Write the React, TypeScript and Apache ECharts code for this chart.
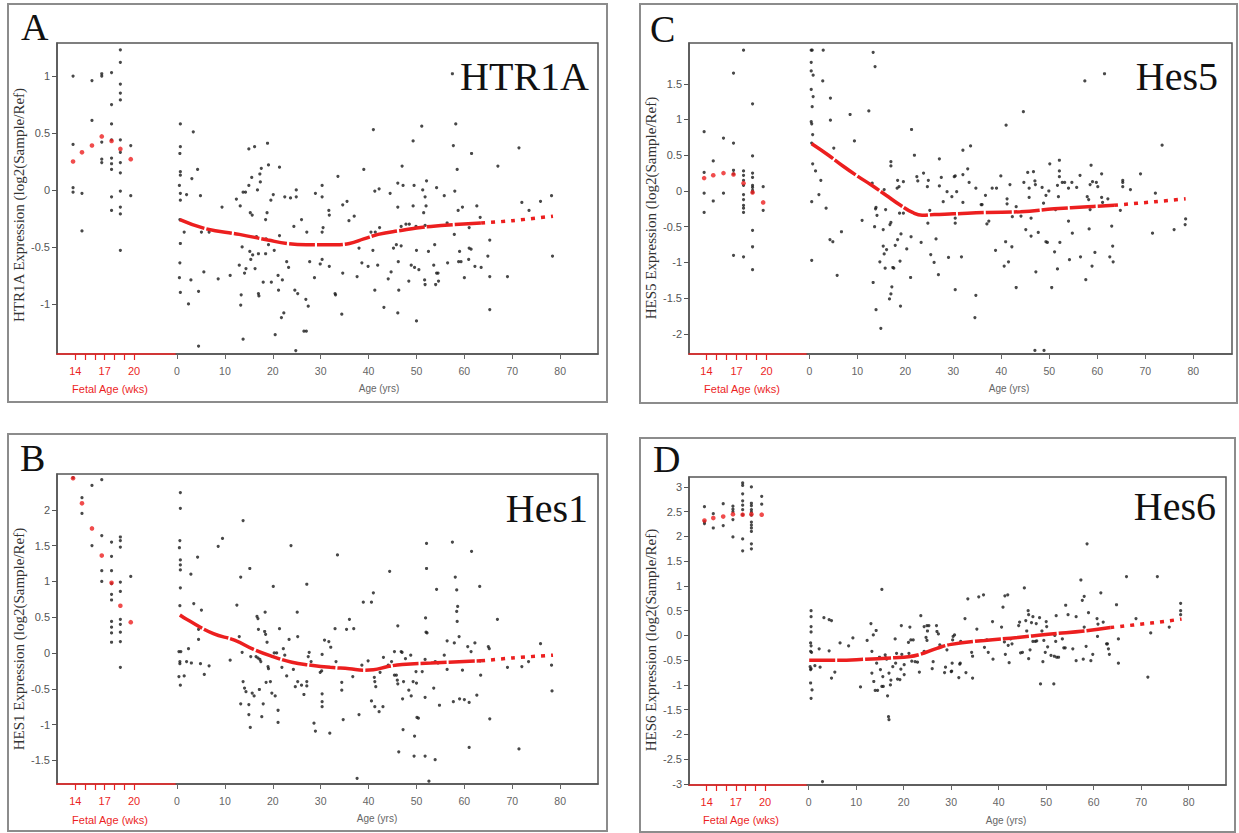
import React, { useEffect, useRef } from "react";
import * as echarts from "echarts";

// ---------- shared axis values ----------
const fetalWeeks = [13.77, 14.68, 15.7, 16.7, 17.7, 18.6, 19.66];
const fetalTickValues = [14, 15, 16, 17, 18, 19, 20];
const fetalLabelValues = [14, 17, 20];
const ageTickValues = [0, 10, 20, 30, 40, 50, 60, 70, 80];

// ---------- panel A : HTR1A ----------
const yTicksA = [-1, -0.5, 0, 0.5, 1];
const htr1aFetalTrend = [0.25, 0.33, 0.39, 0.47, 0.43, 0.36, 0.27];
const htr1aFetalDots = [
  [1.0, 0.4, 0.02, -0.02],
  [-0.03, -0.36],
  [0.96, 0.61],
  [1.02, 1.0, 0.42, 0.27, 0.24],
  [1.03, 0.75, 0.58, 0.44, 0.28, 0.23, 0.18, -0.06, -0.18],
  [1.23, 1.12, 0.93, 0.85, 0.79, 0.44, 0.33, 0.24, 0.15, -0.01, -0.15, -0.21, -0.53],
  [0.39, -0.05],
];
const htr1aAgeDots = [
  [0.7,0.58],[0.7,0.38],[0.6,0.32],[0.7,0.16],[0.7,0.13],[0.5,0.04],[0.7,-0.03],[0.7,-0.09],[2.0,-0.04],[3.1,0.10],[3.4,0.51],[4.3,0.18],[4.9,-0.05],[9.4,-0.15],[12.4,-0.08],[13.2,-0.14],[13.8,-0.02],[14.3,-0.02],[15.0,0.04],[15.0,0.36],[15.6,0.11],[16.2,0.38],[16.8,0.0],[17.3,0.14],[17.4,0.07],[17.6,0.19],[18.9,0.41],[19.1,0.22],[19.6,-0.09],[20.1,-0.04],[21.4,0.20],[22.5,-0.06],[23.7,-0.07],[24.9,0.0],[24.9,-0.06],
  [0.6,-0.26],[1.5,-0.37],[0.7,-0.47],[0.6,-0.64],[0.5,-0.77],[0.7,-0.90],[2.4,-1.0],[2.9,-0.79],[4.5,-0.89],[4.5,-1.37],[5.1,-0.37],[5.6,-0.72],[6.7,-0.37],[8.6,-0.78],[11.1,-0.75],[13.0,-0.66],[13.4,-0.92],[13.3,-1.01],[13.8,-1.31],[13.6,-0.50],[14.1,-0.73],[14.4,-0.69],[15.2,-0.54],[15.3,-0.20],[15.7,-0.22],[15.4,-0.61],[15.8,-0.57],[16.3,-0.69],[16.6,-0.41],[17.0,-0.56],[17.0,-0.91],[17.1,-0.93],[18.0,-0.81],[18.5,-0.26],[18.8,-0.20],[18.6,-0.43],[18.5,-0.56],[19.1,-0.48],[19.7,-0.81],[20.3,-0.53],[20.5,-1.27],[21.1,-0.75],[21.2,-0.88],[21.4,-0.40],[21.8,-1.12],[22.0,-0.79],[22.3,-1.08],[22.9,-0.63],[23.3,-0.68],[24.4,-0.32],[24.6,-0.88],[24.8,-1.41],[25.2,-0.91],[26.0,-0.26],[26.5,-1.24],[27.0,-1.24],[26.9,-0.96],[27.1,-0.37],[27.4,-1.02],[27.7,-0.63],
  [28.7,-0.77],[28.9,-0.03],[29.9,-0.65],[30.3,-0.61],[30.5,-0.33],[30.3,-0.37],[30.3,0.04],[30.3,-0.06],[31.7,-0.18],[31.8,-0.22],[31.8,-0.67],[33.0,-0.91],[33.1,-0.92],[33.6,0.12],[34.6,-0.13],[35.5,-0.10],[35.9,-0.27],[37.0,-0.23],[34.6,-0.73],[34.4,-1.09],[37.6,-0.76],[38.0,-0.51],[38.6,-0.64],[39.0,0.18],[39.9,-0.67],[40.5,-0.37],[41.0,0.53],[41.3,-0.01],[42.2,0.01],[40.9,-0.53],[41.3,-0.88],[41.9,-0.66],[41.4,-0.37],[42.3,-0.33],[43.2,-1.03],[44.1,-0.78],[44.5,-0.03],[44.7,-0.72],[45.2,-0.51],[45.8,-0.48],[46.1,-0.15],[46.1,0.06],[46.2,-0.63],[46.3,-0.88],[46.1,-1.08],[46.8,-0.49],[46.8,-0.32],[47.0,0.21],[47.2,0.04],[47.8,-0.30],[48.5,-0.30],[48.4,-0.80],[48.9,-0.66],[49.3,0.43],[49.3,-0.14],[49.5,0.04],[49.6,-0.68],[50.0,-0.53],[50.0,-1.15],[49.9,-0.32],[50.5,-0.70],[51.1,0.56],[51.3,0.0],[51.5,-0.20],[51.8,-0.06],[52.0,-0.14],[52.1,0.08],[51.8,-0.31],[51.7,-0.79],[51.8,-0.83],[52.5,-0.54],[53.6,-0.66],[53.8,-0.48],[54.0,-0.83],[54.2,-0.73],[54.5,-0.73],[54.6,-0.80],[54.2,0.02],[55.8,-0.05],[56.4,-0.29],[56.5,-0.64],[57.5,1.02],[58.2,0.58],[57.7,0.39],[58.5,0.18],[58.0,-0.01],[58.7,-0.18],[59.6,-0.15],[57.9,-0.39],[58.8,-0.63],[59.0,-0.54],[59.3,-0.63],[61.5,0.32],[62.6,-0.14],[63.3,-0.24],[61.0,-0.33],[61.0,-0.51],[61.4,-0.52],[60.9,-0.61],[60.0,-0.77],[62.2,-0.67],[63.5,-0.68],[64.9,-0.58],[65.3,-0.44],[65.3,-0.76],[65.3,-1.05],[67.0,0.21],[69.0,-0.76],[71.4,0.37],[72.0,-0.11],[73.5,-0.18],[75.9,-0.10],[78.2,-0.05],[78.4,-0.58],
];
const htr1aTrend = [[0.6,-0.26],[6,-0.34],[13,-0.39],[19,-0.44],[23,-0.47],[27,-0.48],[33,-0.48],[36,-0.47],[39,-0.43],[42,-0.39],[46,-0.36],[53,-0.32],[63.5,-0.29],[70,-0.27],[78.5,-0.23]];

// ---------- panel B : Hes1 ----------
const yTicksB = [-1.5, -1, -0.5, 0, 0.5, 1, 1.5, 2];
const hes1FetalTrend = [2.44, 2.09, 1.74, 1.36, 0.98, 0.66, 0.43];
const hes1FetalDots = [
  [2.45],
  [2.17, 1.95],
  [2.34, 1.5],
  [2.42, 1.64, 1.15, 1.0],
  [1.55, 1.35, 1.15, 0.97, 0.82, 0.74, 0.44, 0.36, 0.28, 0.15],
  [1.62, 1.57, 1.48, 0.99, 0.86, 0.47, 0.4, 0.29, 0.16, -0.2],
  [1.07],
];
const hes1AgeDots = [
  [0.7,2.24],[0.7,2.02],[0.6,1.57],[0.5,1.47],[0.7,1.30],[0.7,1.23],[0.7,1.16],[0.7,0.91],[0.6,0.66],[2.9,1.10],[3.5,0.69],[4.3,1.34],[5.1,0.60],[8.6,1.49],[9.5,1.60],[12.5,0.67],[13.3,1.06],[13.8,1.85],[15.2,1.18],[16.7,0.51],[16.9,0.48],[18.4,0.57],[20.1,0.93],[23.8,1.50],[25.1,0.57],[27.1,0.96],
  [0.4,0.02],[0.8,0.02],[0.6,-0.12],[0.6,-0.15],[0.4,-0.33],[0.7,-0.45],[1.5,-0.32],[2.0,-0.12],[2.4,0.06],[3.0,-0.14],[4.5,0.33],[4.5,0.19],[4.9,-0.15],[5.7,-0.30],[6.7,-0.18],[11.1,-0.10],[13.0,0.23],[13.3,-0.71],[13.6,0.01],[13.8,-0.40],[14.1,-0.49],[14.4,-0.54],[15.0,-0.72],[15.0,-0.86],[15.3,-1.04],[15.4,-0.05],[15.7,-0.56],[16.1,-0.60],[16.5,-0.05],[16.9,-0.07],[17.3,-0.09],[17.5,-0.12],[17.0,0.33],[17.2,-0.51],[17.7,-0.89],[18.0,-0.71],[18.3,0.30],[18.5,0.26],[18.8,0.15],[19.0,-0.19],[19.1,-0.22],[18.6,-0.41],[19.5,-0.40],[19.8,-0.56],[20.5,-0.60],[21.1,-0.80],[21.1,-0.97],[20.3,0.0],[20.8,0.0],[21.4,0.34],[21.9,-0.20],[22.2,0.06],[22.5,-0.03],[22.9,-0.32],[23.4,0.19],[24.3,-0.23],[24.7,-0.47],[25.2,0.23],[25.2,-0.40],[26.0,-0.45],[26.5,-0.58],[27.1,-0.40],[27.1,-0.46],[27.4,-0.05],
  [27.6,0.01],[28.0,-0.12],[28.6,-0.98],[28.9,-1.09],[29.9,-0.27],[30.3,-0.02],[30.2,-0.25],[30.3,-0.57],[30.3,-0.68],[30.3,-0.75],[30.8,0.18],[31.7,0.16],[32.1,0.08],[31.9,-1.12],[33.0,0.34],[33.2,-0.12],[33.5,1.37],[34.4,-0.41],[34.4,-0.52],[34.7,-0.93],[35.4,0.33],[36.0,0.47],[36.9,0.34],[36.7,-0.33],[37.6,-1.75],[38.0,-0.86],[38.6,-0.17],[38.9,0.71],[40.6,0.71],[41.0,0.84],[39.9,-0.11],[41.2,-0.34],[41.3,-0.40],[41.5,-0.47],[40.6,-0.67],[41.3,-0.75],[42.2,-0.82],[43.0,-0.75],[42.4,-0.27],[43.1,-0.06],[44.1,-0.17],[44.4,1.14],[44.8,-0.12],[45.4,0.02],[45.4,-0.31],[45.8,-0.31],[46.0,-0.38],[46.1,-0.43],[46.1,0.38],[46.3,-1.38],[46.8,0.02],[47.0,0.01],[47.2,-1.07],[47.1,-0.64],[47.3,-0.40],[47.7,-0.08],[48.8,-0.03],[48.4,-0.52],[48.9,-0.60],[49.3,-0.40],[49.6,-1.16],[49.5,-1.44],[49.9,-0.26],[50.0,-0.42],[50.1,-0.90],[50.4,-0.91],[51.2,-0.26],[51.8,-1.44],[51.8,-0.62],[51.8,-0.09],[51.9,0.49],[52.0,0.29],[52.2,0.28],[52.1,1.18],[52.1,1.53],[52.6,-1.79],[53.6,-0.49],[53.9,-0.12],[54.2,-0.13],[54.5,-0.14],[53.9,-1.49],[54.2,0.89],[54.8,-0.73],[55.8,-0.03],[56.4,0.17],[56.4,-0.23],[57.5,1.55],[57.7,-0.68],[57.9,0.14],[58.1,1.06],[58.4,0.88],[58.6,0.65],[58.4,0.58],[58.5,0.44],[58.9,0.23],[59.0,-0.64],[59.6,-0.24],[60.0,-0.65],[60.7,0.09],[61.0,-1.32],[61.0,-0.69],[61.4,0.02],[61.5,1.42],[62.2,0.14],[62.6,-0.59],[63.2,0.93],[63.3,-0.11],[63.4,-0.31],[65.0,0.09],[65.2,0.06],[65.3,-0.92],[66.9,0.47],[69.0,-0.20],[71.4,-1.34],[72.0,-0.19],[73.4,-0.12],[75.9,0.13],[78.2,-0.17],[78.3,-0.53],
];
const hes1Trend = [[0.6,0.53],[2,0.47],[7.6,0.27],[12,0.18],[16,0.05],[20,-0.05],[24,-0.13],[28,-0.17],[32,-0.20],[36,-0.22],[39,-0.24],[41,-0.235],[44,-0.19],[47,-0.16],[53,-0.14],[63.5,-0.11],[70,-0.07],[78.5,-0.03]];

// ---------- panel C : Hes5 ----------
const yTicksC = [-2, -1.5, -1, -0.5, 0, 0.5, 1, 1.5];
const hes5FetalTrend = [0.18, 0.22, 0.25, 0.23, 0.11, -0.02, -0.16];
const hes5FetalDots = [
  [0.83, 0.26, -0.03, -0.3],
  [0.42, -0.14],
  [0.74, -0.03],
  [1.65, 0.67, 0.29, 0.24, -0.9],
  [1.97, 0.28, 0.22, 0.15, 0.08, -0.05, -0.12, -0.2, -0.24, -0.3, -0.92],
  [1.22, 0.49, 0.25, 0.19, 0.08, 0.05, 0.01, -0.02, -0.55, -0.78, -1.1],
  [0.06, -0.27],
];
const hes5AgeDots = [
  [0.4,1.97],[0.6,1.97],[2.9,1.97],[0.4,1.80],[0.4,1.68],[0.8,1.62],[0.4,1.42],[0.8,1.32],[0.6,1.18],[0.4,0.97],[0.5,0.94],[0.7,0.79],[0.5,0.67],[0.7,0.38],[1.3,0.28],[2.4,0.15],[2.0,-0.05],[0.5,-0.15],[2.8,1.54],[4.4,1.30],[4.4,0.99],[5.1,0.60],[8.5,1.07],[9.4,0.70],[12.4,1.12],[13.3,1.94],[13.7,1.74],[13.1,0.11],[15.6,0.02],[17.0,0.41],[17.0,0.35],[18.3,0.04],[18.7,0.06],[18.4,0.15],[19.6,0.13],[21.3,0.86],[21.9,0.50],[22.4,0.20],[22.6,0.14],[23.8,0.25],[24.8,0.15],
  [3.5,-0.24],[0.5,-0.97],[4.3,-0.68],[4.9,-0.71],[6.7,-0.57],[5.8,-1.18],[11.0,-0.41],[13.3,-1.28],[13.8,-0.25],[13.9,-0.23],[14.1,-0.34],[13.6,-0.50],[13.9,-1.66],[14.9,-1.92],[14.7,-0.99],[15.4,-0.54],[15.6,-0.88],[15.4,-0.77],[15.8,-1.08],[16.1,-0.82],[15.9,-0.26],[16.8,-0.47],[17.0,-0.44],[16.7,-1.51],[17.0,-1.44],[17.2,-1.34],[17.4,-1.07],[17.6,-1.08],[18.4,-0.68],[17.9,-0.76],[19.0,-1.61],[18.9,-0.98],[19.1,-0.60],[18.8,-0.31],[19.6,-0.31],[20.3,-0.81],[21.1,-1.21],[21.2,-0.64],[23.3,-0.72],[24.7,-0.45],
  [25.1,-0.27],[24.6,0.06],[25.3,-0.89],[26.0,-1.0],[26.4,-0.67],[26.9,-1.17],[27.1,0.45],[27.1,0.07],[27.5,0.19],[27.9,-0.15],[28.7,-0.01],[29.0,-0.93],[29.7,-0.08],[30.2,0.20],[30.4,0.21],[30.4,-0.38],[30.4,-0.45],[30.4,-1.38],[30.7,-0.01],[31.7,-0.92],[32.0,0.57],[32.0,-0.16],[32.0,0.23],[33.0,0.31],[33.3,0.12],[33.6,0.63],[34.7,0.04],[34.7,-1.46],[34.5,-1.77],[35.8,-0.19],[36.0,-0.19],[36.7,-0.06],[37.0,-0.46],[37.4,-0.42],[38.1,0.04],[39.0,0.04],[38.8,-0.83],[39.9,0.21],[40.6,-1.05],[40.9,-0.71],[41.0,0.92],[41.2,-0.11],[41.2,-0.18],[41.5,-0.99],[41.8,0.09],[42.3,-0.36],[42.2,-0.78],[43.1,-0.22],[43.1,-1.35],[44.1,-0.35],[44.6,1.11],[44.7,0.12],[45.1,-0.54],[45.5,0.26],[45.8,0.04],[45.8,-0.09],[46.2,-0.38],[46.2,-0.63],[46.7,0.27],[47.0,0.14],[47.1,0.09],[47.2,-1.13],[47.0,-2.23],[48.9,-2.23],[47.7,-0.58],[48.5,0.05],[48.8,-0.17],[49.3,-0.71],[49.6,-0.72],[49.3,-0.06],[49.9,0.0],[50.1,0.38],[50.5,-1.35],[51.1,-0.85],[51.3,-0.26],[51.7,-1.09],[51.7,0.08],[51.9,-0.08],[52.1,0.43],[52.1,0.28],[52.1,0.20],[52.2,-0.72],[52.7,0.12],[53.2,0.12],[54.0,-0.42],[54.0,0.04],[54.2,-0.96],[54.7,0.12],[54.8,-0.59],[55.7,0.05],[56.4,0.22],[56.5,-0.92],[57.4,1.54],[57.6,-1.24],[57.9,-0.08],[58.2,-0.12],[58.3,-0.53],[58.5,0.09],[58.5,-0.26],[58.7,0.36],[58.9,-1.05],[59.0,0.13],[59.5,-0.86],[59.8,0.12],[60.1,0.06],[60.9,0.24],[61.1,-0.16],[60.9,-0.09],[61.5,1.64],[62.2,-0.11],[62.6,-0.92],[63.0,-0.49],[63.2,-0.77],[63.3,-0.99],[64.8,-0.27],[65.3,0.15],[65.3,0.12],[65.3,0.06],[66.9,0.02],[69.0,0.24],[71.5,-0.59],[72.1,-0.03],[73.5,0.64],[76.0,-0.54],[78.3,-0.47],[78.4,-0.39],
];
const hes5Trend = [[0.5,0.66],[4,0.5],[7,0.35],[10,0.21],[13,0.08],[16,-0.06],[19,-0.2],[21.5,-0.3],[23.5,-0.34],[26,-0.33],[30,-0.32],[37,-0.30],[44,-0.29],[51,-0.25],[58,-0.22],[63.5,-0.20],[72,-0.15],[78.4,-0.11]];

// ---------- panel D : Hes6 ----------
const yTicksD = [-3, -2.5, -2, -1.5, -1, -0.5, 0, 0.5, 1, 1.5, 2, 2.5, 3];
const hes6FetalTrend = [2.32, 2.37, 2.4, 2.45, 2.44, 2.45, 2.44];
const hes6FetalDots = [
  [2.6, 2.3, 2.26],
  [2.46, 2.17],
  [2.66, 2.22],
  [2.61, 2.55, 2.5, 2.34, 1.99],
  [3.08, 3.03, 2.86, 2.72, 2.63, 2.54, 2.44, 1.95, 1.71],
  [3.0, 2.67, 2.62, 2.54, 2.49, 2.43, 2.29, 2.23, 2.17, 2.1, 1.85, 1.75],
  [2.81, 2.65],
];
const hes6AgeDots = [
  [0.5,0.50],[0.5,0.38],[3.2,0.36],[4.3,0.32],[4.8,0.30],[13.1,0.24],[15.4,0.93],[23.6,0.40],
  [0.5,0.18],[0.5,0.07],[0.4,-0.15],[0.5,-0.21],[0.4,-0.32],[0.6,-0.34],[0.3,-0.63],[0.4,-0.69],[0.5,-0.67],[0.4,-0.96],[0.7,-1.10],[0.5,-1.27],[1.3,-0.61],[2.4,-0.64],[2.2,-0.27],[4.3,-0.31],[4.8,-0.86],[5.5,-0.74],[2.9,-2.95],[6.6,-0.15],[8.4,-0.21],[9.3,-0.05],[10.9,-1.04],[12.3,-0.10],[13.6,0.01],[14.2,0.10],[13.3,-0.32],[13.3,-0.76],[13.7,-0.93],[14.0,-1.11],[14.5,-1.11],[14.3,-0.56],[14.9,-0.44],[15.1,-0.69],[15.4,-1.03],[15.7,-1.03],[15.6,-0.83],[16.1,-0.39],[16.2,-0.45],[16.4,-0.48],[16.6,-1.22],[16.8,-1.64],[16.9,-1.70],[16.9,-0.76],[17.2,-1.0],[17.3,-0.90],[17.7,-0.63],[18.2,-0.07],[18.3,-0.56],[18.5,-0.36],[18.7,-0.88],[19.2,-0.89],[19.4,-0.68],[19.5,0.20],[19.6,-0.38],[20.1,-0.59],[20.1,-0.79],[21.0,-0.14],[21.1,-0.36],[21.3,0.17],[21.5,-0.09],[22.0,-0.09],[21.7,-0.52],[22.4,-0.53],[22.9,-0.54],[23.3,-0.74],[24.1,-0.36],[24.7,-0.04],[24.9,-0.10],[24.3,0.18],
  [24.3,-0.32],[24.9,0.20],[25.0,0.09],[25.3,0.20],[26.0,-0.67],[26.2,-0.53],[26.9,0.20],[27.0,0.08],[27.3,0.03],[27.6,-0.19],[28.6,-0.75],[28.8,-0.64],[29.1,-0.29],[30.0,-0.73],[30.1,-0.72],[30.2,-0.56],[30.3,-0.09],[30.4,-0.02],[30.7,0.01],[31.6,-0.85],[31.8,-0.58],[31.9,-0.56],[32.0,-0.12],[32.9,0.34],[33.1,-0.75],[33.5,0.74],[34.5,-0.42],[34.5,-0.86],[34.3,-0.34],[35.4,0.13],[35.8,0.78],[36.8,0.82],[37.0,-0.24],[37.5,-0.09],[37.8,-0.34],[38.7,0.28],[38.8,-0.48],[40.6,0.17],[40.9,0.57],[41.3,0.80],[41.9,0.82],[41.2,-0.13],[41.4,-0.38],[42.0,-0.20],[42.2,-0.55],[42.5,-0.07],[42.8,-0.17],[44.2,0.20],[44.4,0.27],[44.6,-0.35],[45.0,-0.34],[45.4,0.96],[45.7,0.30],[45.9,0.09],[46.2,0.50],[46.3,0.42],[46.3,-0.47],[46.6,-0.29],[46.9,0.26],[47.2,0.38],[47.2,-0.12],[47.7,-0.12],[48.0,-0.11],[47.9,0.24],[48.6,0.36],[48.8,-0.98],[49.1,0.09],[49.3,-0.53],[49.5,-0.10],[50.0,0.28],[50.1,0.18],[50.3,-0.23],[49.8,-0.34],[51.0,-0.40],[51.7,-0.42],[52.2,-0.44],[52.6,-0.44],[51.6,-0.98],[51.8,0.0],[52.0,-0.12],[52.1,0.40],[53.4,-0.07],[53.7,-0.25],[54.0,-0.25],[54.1,0.61],[54.6,0.42],[55.6,-0.27],[56.3,0.38],[56.3,-0.51],[57.3,1.12],[57.6,0.71],[58.0,0.79],[57.8,-0.48],[58.0,0.17],[58.4,-0.22],[58.6,1.85],[58.9,0.46],[59.4,-0.51],[59.8,-0.38],[60.7,0.34],[60.9,0.23],[60.8,-0.02],[61.5,0.86],[62.0,0.27],[62.7,-0.17],[62.9,-0.17],[63.1,-0.27],[63.3,-0.38],[64.8,0.62],[65.2,-0.07],[65.2,-0.56],[66.9,1.19],[68.9,0.34],[71.4,-0.84],[72.0,0.05],[73.4,1.19],[75.9,0.17],[78.3,0.65],[78.3,0.50],[78.3,0.42],
];
const hes6Trend = [[0.1,-0.50],[6,-0.50],[12,-0.48],[18,-0.45],[21,-0.43],[23.5,-0.38],[27,-0.26],[30,-0.18],[37,-0.10],[44,-0.04],[51,0.03],[58,0.09],[63.5,0.16],[72,0.25],[78.5,0.33]];

// ---------- layout (pixels) ----------
const RED = "#ec1f1f";
const SANS = "Liberation Sans";
const SERIF = "Liberation Serif";

const panels = [
  {
    letter: "A", gene: "HTR1A", yTitle: "HTR1A Expression (log2(Sample/Ref)",
    box: { x: 8, y: 4, w: 599, h: 398 }, plot: { l: 57, t: 43, r: 598, b: 354 }, split: 176,
    fetalRange: [12.13, 24.28], ageRange: [-0.21, 87.9], yRange: [-1.44, 1.29], yTicks: yTicksA,
    fetalDots: htr1aFetalDots, fetalTrend: htr1aFetalTrend, ageDots: htr1aAgeDots, trend: htr1aTrend,
    letterPos: [21, 27], genePos: [589, 76], yTitlePos: [19, 205], fetalNamePos: [110, 389], ageNamePos: [379, 388],
  },
  {
    letter: "B", gene: "Hes1", yTitle: "HES1 Expression (log2(Sample/Ref)",
    box: { x: 8, y: 434, w: 599, h: 397 }, plot: { l: 57, t: 474, r: 598, b: 784 }, split: 176,
    fetalRange: [12.13, 24.28], ageRange: [-0.21, 87.9], yRange: [-1.83, 2.5], yTicks: yTicksB,
    fetalDots: hes1FetalDots, fetalTrend: hes1FetalTrend, ageDots: hes1AgeDots, trend: hes1Trend,
    letterPos: [20, 458], genePos: [588, 508], yTitlePos: [19, 639], fetalNamePos: [110, 820], ageNamePos: [377, 818],
  },
  {
    letter: "C", gene: "Hes5", yTitle: "HES5 Expression (log2(Sample/Ref)",
    box: { x: 640, y: 4, w: 597, h: 399 }, plot: { l: 689, t: 43, r: 1232, b: 354 }, split: 807,
    fetalRange: [12.26, 24.03], ageRange: [-0.48, 88.06], yRange: [-2.28, 2.07], yTicks: yTicksC,
    fetalDots: hes5FetalDots, fetalTrend: hes5FetalTrend, ageDots: hes5AgeDots, trend: hes5Trend,
    letterPos: [650, 29], genePos: [1218, 76], yTitlePos: [651, 208], fetalNamePos: [742, 389], ageNamePos: [1009, 388],
  },
  {
    letter: "D", gene: "Hes6", yTitle: "HES6 Expression (log2(Sample/Ref)",
    box: { x: 640, y: 438, w: 595, h: 394 }, plot: { l: 689, t: 477, r: 1226, b: 785 }, split: 807,
    fetalRange: [12.18, 24.32], ageRange: [-0.36, 87.85], yRange: [-3.02, 3.2], yTicks: yTicksD,
    fetalDots: hes6FetalDots, fetalTrend: hes6FetalTrend, ageDots: hes6AgeDots, trend: hes6Trend,
    letterPos: [653, 459], genePos: [1216, 506], yTitlePos: [651, 640], fetalNamePos: [741, 820], ageNamePos: [1006, 820],
  },
];

function buildOption() {
  const grid: any[] = [];
  const xAxis: any[] = [];
  const yAxis: any[] = [];
  const series: any[] = [];
  const graphic: any[] = [];

  panels.forEach((p, i) => {
    const fi = i * 2;
    const ai = i * 2 + 1;
    const h = p.plot.b - p.plot.t;
    grid.push({ left: p.plot.l, top: p.plot.t, width: p.split - p.plot.l, height: h, show: false });
    grid.push({ left: p.split, top: p.plot.t, width: p.plot.r - p.split, height: h, show: false });

    xAxis.push({
      type: "value", gridIndex: fi, position: "bottom", min: p.fetalRange[0], max: p.fetalRange[1], z: 10,
      axisLine: { show: true, onZero: false, lineStyle: { color: RED, width: 1.5 } },
      axisTick: { show: true, length: 6, customValues: fetalTickValues, lineStyle: { color: RED, width: 1.2 } },
      axisLabel: { show: true, customValues: fetalLabelValues, color: RED, fontSize: 11, fontFamily: SANS, margin: 11 },
      splitLine: { show: false },
    });
    xAxis.push({
      type: "value", gridIndex: ai, position: "bottom", min: p.ageRange[0], max: p.ageRange[1], z: 10,
      axisLine: { show: true, onZero: false, lineStyle: { color: "#555", width: 1.5 } },
      axisTick: { show: true, length: 5, customValues: ageTickValues, lineStyle: { color: "#666", width: 1 } },
      axisLabel: { show: true, customValues: ageTickValues, color: "#666", fontSize: 10.5, fontFamily: SANS, margin: 11 },
      splitLine: { show: false },
    });
    yAxis.push({
      type: "value", gridIndex: fi, position: "left", min: p.yRange[0], max: p.yRange[1], z: 10,
      axisLine: { show: true, onZero: false, lineStyle: { color: "#555", width: 1.5 } },
      axisTick: { show: true, length: 5, customValues: p.yTicks, lineStyle: { color: "#555", width: 1 } },
      axisLabel: { show: true, customValues: p.yTicks, color: "#555", fontSize: 11, fontFamily: SANS, margin: 7 },
      splitLine: { show: false },
    });
    yAxis.push({
      type: "value", gridIndex: ai, min: p.yRange[0], max: p.yRange[1], show: false,
      axisLine: { onZero: false },
      splitLine: { show: false },
    });

    const fetalBlack = p.fetalDots.flatMap((vals, c) => vals.map((v) => [fetalWeeks[c], v]));
    const fetalRed = p.fetalTrend.map((v, c) => [fetalWeeks[c], v]);
    const dense = p.trend.filter((d) => d[0] <= 63.5);
    const sparse = p.trend.filter((d) => d[0] >= 63.5);

    series.push({
      type: "scatter", xAxisIndex: fi, yAxisIndex: fi, data: fetalBlack, symbol: "circle", symbolSize: 3.2,
      itemStyle: { color: "#1a1a1a" }, silent: true,
    });
    series.push({
      type: "scatter", xAxisIndex: fi, yAxisIndex: fi, data: fetalRed, symbol: "circle", symbolSize: 4.6,
      itemStyle: { color: RED }, silent: true, z: 4,
    });
    series.push({
      type: "scatter", xAxisIndex: ai, yAxisIndex: ai, data: p.ageDots, symbol: "circle", symbolSize: 3.2,
      itemStyle: { color: "#1a1a1a" }, silent: true,
    });
    series.push({
      type: "line", xAxisIndex: ai, yAxisIndex: ai, data: dense, smooth: 0.45, symbol: "none", silent: true, z: 4,
      lineStyle: { color: RED, width: 3.5, type: [26, 2] },
    });
    series.push({
      type: "line", xAxisIndex: ai, yAxisIndex: ai, data: sparse, smooth: 0.3, symbol: "none", silent: true, z: 4,
      lineStyle: { color: RED, width: 3.5, type: [4, 6] },
    });

    // panel frames and texts
    graphic.push({
      type: "rect", z: 0, silent: true,
      shape: { x: p.box.x, y: p.box.y, width: p.box.w, height: p.box.h },
      style: { fill: "none", stroke: "#8c8c8c", lineWidth: 2 },
    });
    graphic.push({
      type: "rect", z: 1, silent: true,
      shape: { x: p.plot.l, y: p.plot.t, width: p.plot.r - p.plot.l, height: h },
      style: { fill: "none", stroke: "#555", lineWidth: 1.5 },
    });
    graphic.push({
      type: "text", z: 20, silent: true, x: p.letterPos[0], y: p.letterPos[1],
      style: { text: p.letter, fill: "#111", fontSize: 38, fontFamily: SERIF, align: "left", verticalAlign: "middle" },
    });
    graphic.push({
      type: "text", z: 20, silent: true, x: p.genePos[0], y: p.genePos[1],
      style: { text: p.gene, fill: "#111", fontSize: 40, fontFamily: SERIF, align: "right", verticalAlign: "middle" },
    });
    graphic.push({
      type: "text", z: 20, silent: true, x: p.yTitlePos[0], y: p.yTitlePos[1], rotation: Math.PI / 2,
      style: { text: p.yTitle, fill: "#333", fontSize: 15, fontFamily: SERIF, align: "center", verticalAlign: "middle" },
    });
    graphic.push({
      type: "text", z: 20, silent: true, x: p.fetalNamePos[0], y: p.fetalNamePos[1],
      style: { text: "Fetal Age (wks)", fill: RED, fontSize: 11, fontFamily: SANS, align: "center", verticalAlign: "middle" },
    });
    graphic.push({
      type: "text", z: 20, silent: true, x: p.ageNamePos[0], y: p.ageNamePos[1],
      style: { text: "Age (yrs)", fill: "#666", fontSize: 10, fontFamily: SANS, align: "center", verticalAlign: "middle" },
    });
  });

  return {
    animation: false,
    backgroundColor: "#ffffff",
    grid,
    xAxis,
    yAxis,
    series,
    graphic: { elements: graphic },
  };
}

export default function App() {
  const ref = useRef<HTMLDivElement>(null);
  useEffect(() => {
    if (!ref.current) return;
    const chart = echarts.init(ref.current, undefined, { renderer: "svg" });
    chart.setOption(buildOption() as any);
    return () => chart.dispose();
  }, []);
  return (
    <div
      ref={ref}
      style={{ position: "absolute", left: 0, top: 0, width: 1239, height: 833, background: "#fff" }}
    />
  );
}
